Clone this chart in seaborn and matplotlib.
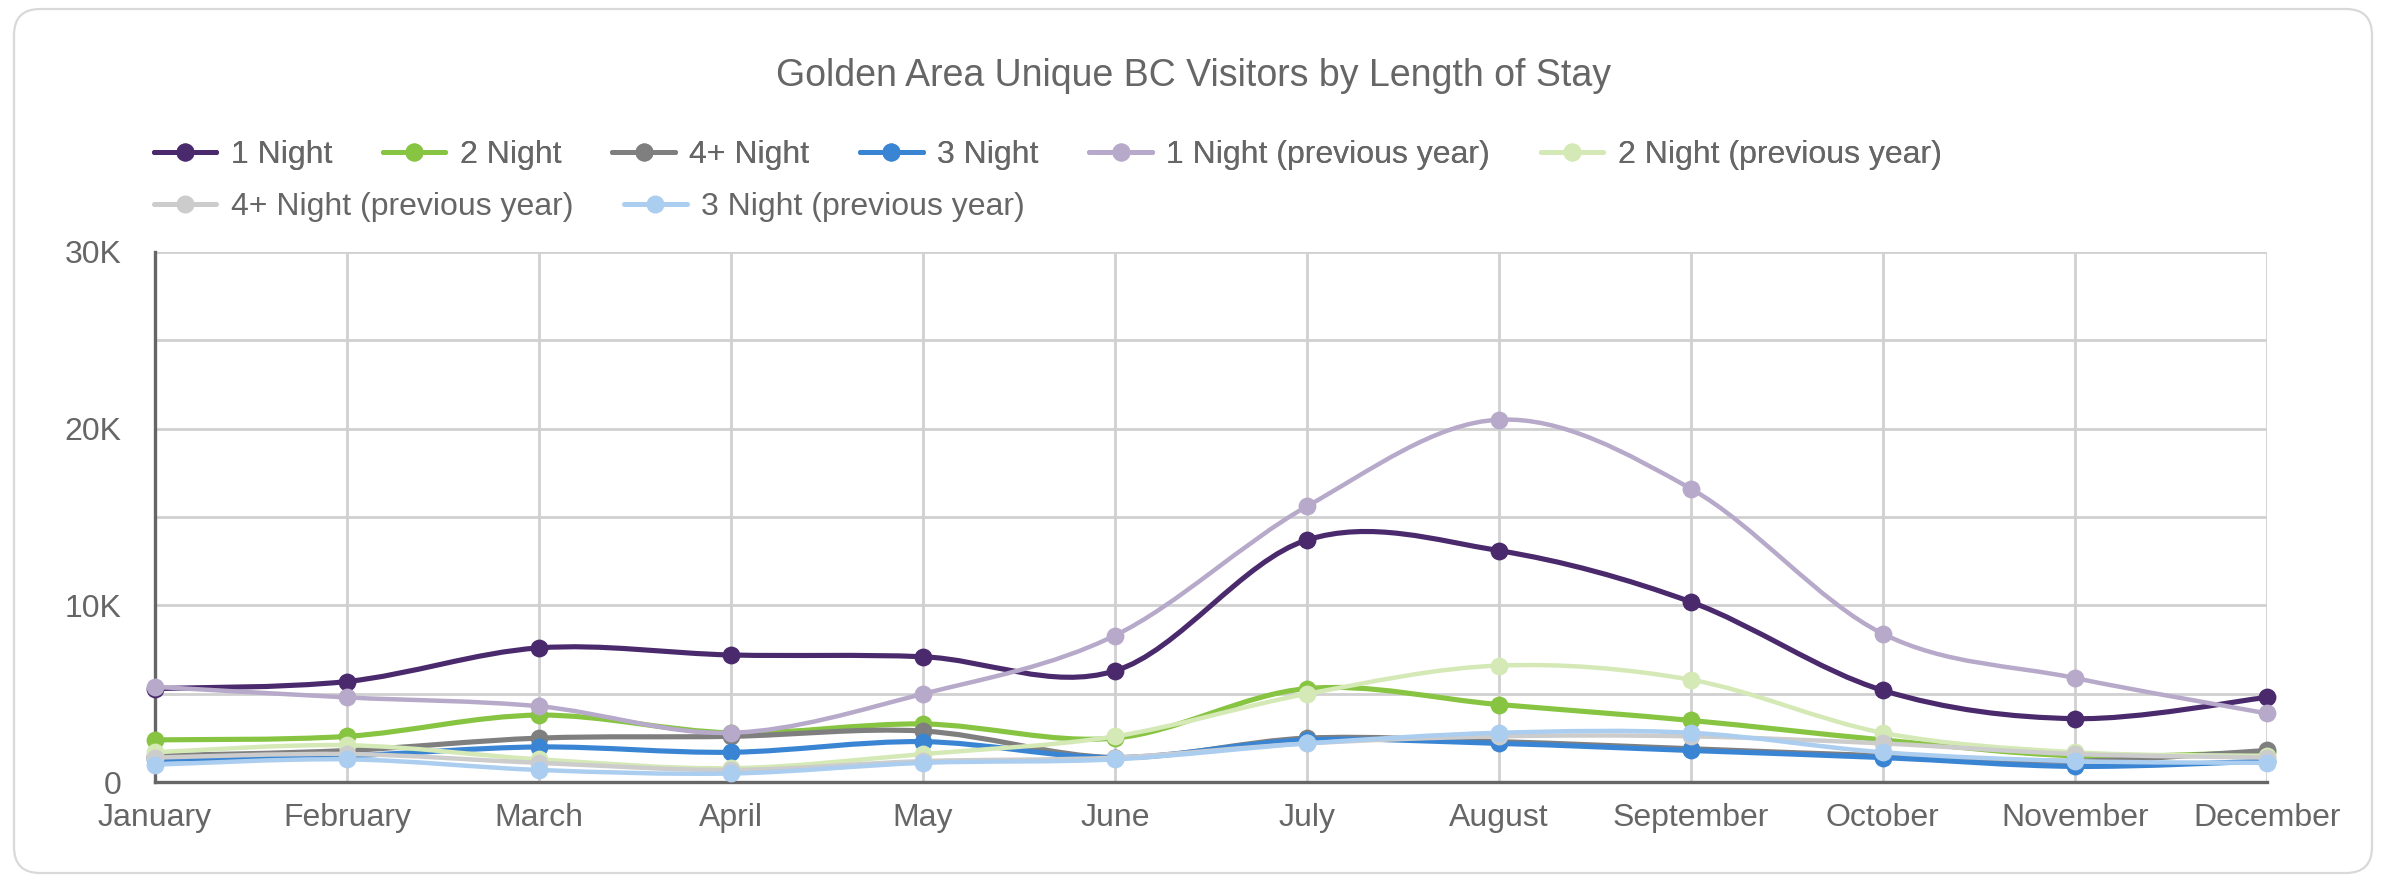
import numpy as np
import pandas as pd
import matplotlib
matplotlib.use('Agg')
import matplotlib.pyplot as plt
from matplotlib.path import Path
from matplotlib.patches import PathPatch, FancyBboxPatch
from matplotlib.lines import Line2D
import seaborn as sns

# ── Data ────────────────────────────────────────────────────────
months = ['January', 'February', 'March', 'April', 'May', 'June', 'July',
          'August', 'September', 'October', 'November', 'December']
one_night = [5300, 5700, 7600, 7200, 7100, 6300, 13700, 13100, 10200, 5200, 3600, 4800]
two_night = [2400, 2600, 3800, 2800, 3300, 2500, 5300, 4400, 3500, 2400, 1500, 1700]
four_night = [1500, 1800, 2500, 2600, 2900, 1400, 2500, 2300, 1900, 1500, 1200, 1800]
three_night = [1300, 1500, 2000, 1700, 2300, 1400, 2400, 2200, 1800, 1400, 900, 1200]
one_night_py = [5400, 4800, 4300, 2800, 5000, 8300, 15600, 20500, 16600, 8400, 5900, 3900]
two_night_py = [1700, 2100, 1300, 800, 1600, 2600, 5000, 6600, 5800, 2800, 1700, 1500]
four_night_py = [1400, 1600, 1100, 700, 1200, 1400, 2200, 2600, 2600, 2200, 1600, 1400]
three_night_py = [1000, 1300, 700, 500, 1100, 1300, 2200, 2800, 2800, 1700, 1200, 1100]

series_names = ['1 Night', '2 Night', '4+ Night', '3 Night',
                '1 Night (previous year)', '2 Night (previous year)',
                '4+ Night (previous year)', '3 Night (previous year)']
series_vals = [one_night, two_night, four_night, three_night,
               one_night_py, two_night_py, four_night_py, three_night_py]
colors = ['#4a2a6d', '#87c441', '#7f7f7f', '#3a85d3',
          '#b7a9c9', '#d4e9b6', '#cccccc', '#abcdef']

rows = []
for name, vals in zip(series_names, series_vals):
    for i, v in enumerate(vals):
        rows.append({'series': name, 'month': i, 'value': v})
df = pd.DataFrame(rows)

TXT = '#666666'

sns.set_theme(style='white')
plt.rcParams['font.family'] = ['Liberation Sans', 'DejaVu Sans']

fig = plt.figure(figsize=(23.86, 8.83), dpi=100)

# rounded frame around the whole chart
bg = fig.add_axes([0, 0, 1, 1], zorder=-5)
bg.set_xlim(0, 2386); bg.set_ylim(883, 0); bg.axis('off')
bg.add_patch(FancyBboxPatch((14, 9), 2358, 864, boxstyle='round,pad=0,rounding_size=26',
                            fc='white', ec='#d9d9d9', lw=1.6))

ax = fig.add_axes([0.065, 0.114, 0.885, 0.601])
ax.set_facecolor('none')


def smooth_path(xs, ys):
    # Catmull-Rom curve through the points, drawn as cubic Bezier segments
    n = len(xs)
    verts = [(xs[0], ys[0])]
    codes = [Path.MOVETO]
    for i in range(n - 1):
        p0 = (xs[max(i - 1, 0)], ys[max(i - 1, 0)])
        p1 = (xs[i], ys[i])
        p2 = (xs[i + 1], ys[i + 1])
        p3 = (xs[min(i + 2, n - 1)], ys[min(i + 2, n - 1)])
        c1 = (p1[0] + (p2[0] - p0[0]) / 6, p1[1] + (p2[1] - p0[1]) / 6)
        c2 = (p2[0] - (p3[0] - p1[0]) / 6, p2[1] - (p3[1] - p1[1]) / 6)
        verts += [c1, c2, p2]
        codes += [Path.CURVE4] * 3
    return Path(verts, codes)


for k, (name, col) in enumerate(zip(series_names, colors)):
    sub = df[df['series'] == name]
    lw = 3.7 if k < 4 else 3.2
    ax.add_patch(PathPatch(smooth_path(sub['month'].values, sub['value'].values),
                           fc='none', ec=col, lw=lw, zorder=3 + k, clip_on=False,
                           capstyle='round', joinstyle='round'))
    sns.scatterplot(data=sub, x='month', y='value', color=col, s=165,
                    edgecolor=col, linewidth=0, ax=ax, zorder=3.5 + k,
                    clip_on=False, legend=False)

ax.set_xlim(0, 11)
ax.set_ylim(0, 30000)
ax.set_xticks(range(12))
ax.set_xticklabels(months)
ax.set_yticks(range(0, 30001, 5000))
ax.set_yticklabels(['0', '', '10K', '', '20K', '', '30K'])
ax.set_xlabel(''); ax.set_ylabel('')
ax.tick_params(axis='both', length=0, labelsize=23, labelcolor=TXT)
ax.tick_params(axis='x', pad=15)
ax.tick_params(axis='y', pad=24)
ax.grid(True, color='#d0d0d0', lw=2.0)
ax.set_axisbelow(True)
for s in ['top', 'right']:
    ax.spines[s].set_visible(False)
for s in ['left', 'bottom']:
    ax.spines[s].set_color('#666666')
    ax.spines[s].set_linewidth(2.4)

fig.text(0.5, 0.914, 'Golden Area Unique BC Visitors by Length of Stay',
         ha='center', va='center', fontsize=27, color=TXT)

handles = [Line2D([0], [0], color=c, lw=3.6, marker='o', markersize=13,
                  markeredgewidth=0) for c in colors]
leg_kw = dict(frameon=False, fontsize=23, labelcolor=TXT, handlelength=1.95,
              handletextpad=0.45, columnspacing=1.6, borderpad=0, borderaxespad=0,
              loc='center left')
leg1 = fig.legend(handles[:6], series_names[:6], ncol=6,
                  bbox_to_anchor=(154 / 2386, 1 - 155 / 883), **leg_kw)
fig.add_artist(leg1)
fig.legend(handles[6:], series_names[6:], ncol=2,
           bbox_to_anchor=(154 / 2386, 1 - 207 / 883), **leg_kw)

fig.savefig('out.png', dpi=100)
